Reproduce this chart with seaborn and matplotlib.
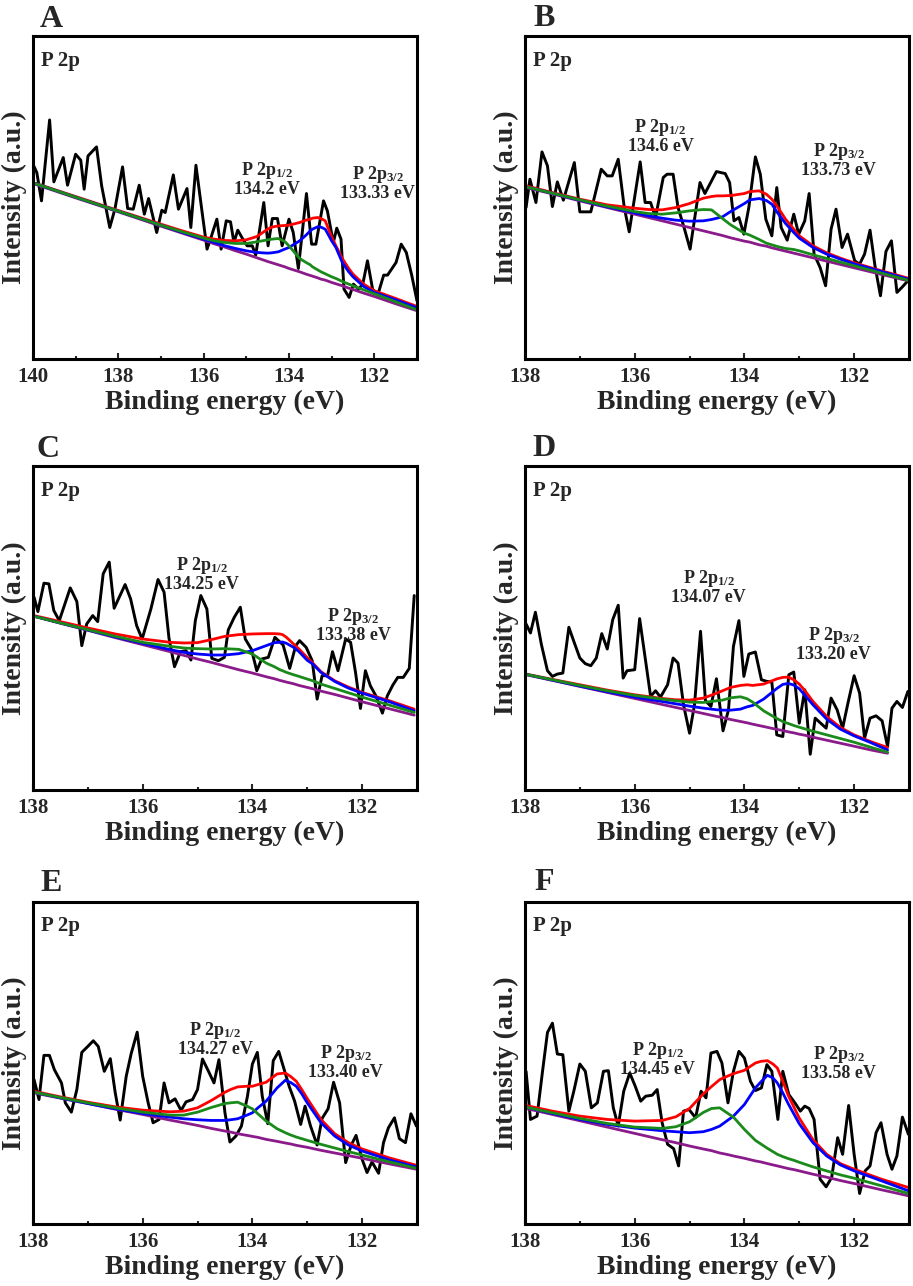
import matplotlib
matplotlib.use('Agg')
import seaborn as sns
from matplotlib import pyplot as plt
from matplotlib.ticker import MultipleLocator

# ---------------- panel A ----------------
a_raw_e = [140.00, 139.91, 139.80, 139.61, 139.51, 139.29, 139.19, 139.00, 138.88, 138.80, 138.71, 138.51,
           138.39, 138.20, 138.08, 137.90, 137.78, 137.65, 137.51, 137.39, 137.29, 137.10, 136.98, 136.90,
           136.71, 136.59, 136.39, 136.30, 136.18, 136.04, 135.92, 135.84, 135.69, 135.59, 135.47, 135.37,
           135.29, 135.20, 135.08, 134.98, 134.86, 134.78, 134.59, 134.49, 134.39, 134.27, 134.16, 134.00,
           133.90, 133.78, 133.59, 133.47, 133.37, 133.19, 133.10, 132.96, 132.88, 132.78, 132.71, 132.59,
           132.49, 132.37, 132.27, 132.16, 132.04, 131.92, 131.78, 131.69, 131.49, 131.37, 131.25, 131.12,
           131.00]
a_raw_i = [585, 560, 475, 718, 532, 605, 522, 615, 597, 510, 610, 637, 520, 395, 450, 577, 452, 450, 522, 435,
           482, 380, 447, 440, 553, 450, 512, 395, 582, 445, 330, 360, 420, 330, 415, 412, 350, 387, 360, 340,
           340, 312, 470, 340, 422, 422, 340, 420, 380, 272, 497, 345, 345, 475, 445, 350, 393, 360, 210, 185,
           225, 210, 225, 295, 210, 192, 252, 252, 290, 345, 320, 250, 175]
a_fit_e = [139.95, 139, 138, 137, 136.5, 136, 135.75, 135.5, 135.25, 135, 134.75, 134.5, 134.4, 134.25, 134.1,
           134, 133.75, 133.6, 133.5, 133.45, 133.33, 133.25, 133.15, 133, 132.9, 132.75, 132.6, 132.5, 132.25,
           132, 131.5, 131.0]
a_bg = [525, 484, 442, 399, 378, 357, 346, 336, 325, 315, 304, 293, 289, 283, 277, 272, 262, 255, 251, 249, 244,
        240, 237, 230, 226, 220, 213, 209, 198, 188, 166, 145]
a_p12 = [527, 486, 444, 402, 382, 363, 355, 350, 347, 347, 352, 358, 360, 362, 353, 340, 302, 290, 283, 277, 268,
         262, 256, 247, 242, 233, 225, 220, 208, 196, 172, 148]
a_p32 = [527, 486, 444, 402, 380, 360, 350, 340, 332, 325, 320, 318, 319, 322, 330, 335, 355, 372, 385, 390, 397,
         396, 390, 355, 335, 290, 262, 247, 218, 200, 178, 154]
a_env = [528, 488, 446, 405, 385, 366, 360, 356, 355, 358, 368, 390, 396, 400, 401, 402, 410, 417, 420, 423, 425,
         422, 415, 367, 340, 302, 272, 255, 225, 205, 182, 158]

# ---------------- panel B ----------------
b_raw_e = [137.98, 137.91, 137.80, 137.69, 137.59, 137.50, 137.41, 137.30, 137.10, 137.00, 136.80, 136.61,
           136.50, 136.41, 136.30, 136.19, 136.10, 135.90, 135.81, 135.71, 135.62, 135.48, 135.41, 135.30,
           135.21, 135.10, 134.99, 134.81, 134.72, 134.51, 134.35, 134.27, 134.19, 134.10, 134.01, 133.92,
           133.80, 133.71, 133.61, 133.50, 133.41, 133.33, 133.22, 133.10, 133.01, 132.90, 132.82, 132.73,
           132.62, 132.52, 132.42, 132.33, 132.22, 132.12, 131.99, 131.90, 131.81, 131.71, 131.62, 131.52,
           131.42, 131.32, 131.22, 131.13, 131.02]
b_raw_i = [455, 540, 470, 622, 580, 458, 532, 477, 590, 442, 442, 570, 550, 550, 600, 455, 382, 592, 470, 470,
           425, 545, 555, 555, 455, 395, 330, 530, 497, 563, 557, 530, 415, 425, 375, 455, 607, 555, 420, 370,
           515, 395, 357, 435, 375, 415, 497, 315, 275, 220, 390, 450, 335, 375, 295, 285, 315, 387, 280, 190,
           323, 355, 200, 215, 235]
b_fit_e = [137.98, 137.5, 137, 136.5, 136, 135.75, 135.5, 135.25, 135, 134.75, 134.6, 134.5, 134.4, 134.25, 134,
           133.9, 133.73, 133.6, 133.5, 133.4, 133.25, 133.1, 133, 132.75, 132.5, 132.25, 132, 131.5, 131.02]
b_bg = [515, 496, 475, 455, 435, 425, 415, 405, 395, 385, 379, 375, 371, 364, 354, 351, 343, 339, 334, 330, 324,
        318, 314, 304, 294, 284, 274, 254, 235]
b_p12 = [517, 498, 478, 459, 443, 437, 435, 439, 445, 449, 448, 435, 422, 403, 378, 372, 359, 348, 343, 338, 332,
         329, 325, 313, 302, 291, 280, 258, 237]
b_p32 = [517, 498, 477, 457, 439, 430, 423, 417, 414, 415, 419, 423, 427, 443, 467, 478, 482, 476, 465, 440, 407,
         380, 363, 335, 315, 300, 286, 263, 240]
b_env = [520, 500, 480, 463, 453, 449, 448, 455, 467, 483, 488, 490, 490, 491, 497, 503, 505, 495, 480, 458, 420,
         390, 370, 340, 319, 303, 289, 265, 243]

# ---------------- panel C ----------------
c_raw_e = [137.98, 137.91, 137.80, 137.71, 137.62, 137.52, 137.32, 137.20, 137.11, 137.02, 136.91, 136.82,
           136.72, 136.61, 136.52, 136.32, 136.22, 136.11, 136.01, 135.85, 135.72, 135.61, 135.52, 135.42,
           135.31, 135.21, 135.12, 135.04, 134.94, 134.83, 134.74, 134.62, 134.51, 134.44, 134.33, 134.22,
           134.13, 134.02, 133.92, 133.83, 133.71, 133.59, 133.44, 133.32, 133.21, 133.14, 133.02, 132.91,
           132.82, 132.73, 132.63, 132.54, 132.44, 132.30, 132.21, 132.12, 132.03, 131.94, 131.85, 131.75,
           131.63, 131.54, 131.44, 131.35, 131.25, 131.14, 131.05]
c_raw_i = [577, 534, 619, 617, 537, 507, 605, 564, 432, 497, 522, 504, 647, 682, 544, 615, 572, 492, 452, 542,
           630, 592, 454, 369, 414, 417, 389, 507, 582, 542, 394, 387, 397, 479, 517, 547, 452, 422, 357, 392,
           397, 457, 434, 364, 432, 447, 427, 387, 272, 342, 342, 414, 357, 452, 442, 352, 244, 357, 312, 282,
           230, 282, 314, 337, 337, 364, 582]
c_fit_e = [137.98, 137.5, 137, 136.5, 136, 135.5, 135.25, 135, 134.75, 134.5, 134.25, 134, 133.75, 133.6, 133.5,
           133.45, 133.38, 133.25, 133.15, 133, 132.9, 132.75, 132.5, 132.25, 132, 131.5, 131.05]
c_bg = [520, 499, 478, 456, 435, 414, 403, 392, 382, 371, 360, 350, 339, 333, 328, 326, 323, 318, 313, 307, 303,
        296, 286, 275, 264, 243, 224]
c_p12 = [520, 500, 480, 460, 442, 430, 425, 423, 422, 423, 421, 407, 380, 369, 360, 357, 352, 345, 340, 332, 327,
         317, 304, 291, 278, 254, 232]
c_p32 = [520, 500, 479, 458, 439, 420, 412, 407, 404, 404, 408, 417, 432, 441, 442, 443, 439, 427, 414, 388, 377,
         352, 325, 305, 290, 264, 237]
c_env = [522, 504, 485, 467, 452, 442, 440, 441, 450, 460, 465, 467, 468, 468, 467, 465, 457, 437, 422, 396, 380,
         354, 327, 308, 292, 267, 242]

# ---------------- panel D ----------------
d_raw_e = [137.98, 137.90, 137.81, 137.70, 137.59, 137.50, 137.41, 137.31, 137.20, 137.11, 137.00, 136.90,
           136.80, 136.70, 136.60, 136.50, 136.40, 136.30, 136.21, 136.14, 136.00, 135.91, 135.80, 135.71,
           135.62, 135.53, 135.40, 135.30, 135.21, 135.11, 135.00, 134.91, 134.80, 134.71, 134.61, 134.51,
           134.39, 134.29, 134.20, 134.10, 134.01, 133.92, 133.80, 133.69, 133.59, 133.50, 133.41, 133.30,
           133.19, 133.10, 133.00, 132.90, 132.80, 132.71, 132.61, 132.51, 132.42, 132.31, 132.21, 132.11,
           132.00, 131.90, 131.81, 131.71, 131.60, 131.49, 131.39, 131.31, 131.22, 131.12, 131.02]
d_raw_i = [497, 470, 532, 435, 357, 340, 347, 350, 487, 445, 395, 378, 372, 395, 468, 422, 510, 553, 335, 357,
           360, 513, 385, 280, 297, 278, 315, 395, 380, 255, 170, 255, 475, 267, 250, 333, 177, 240, 430, 507,
           340, 407, 413, 330, 325, 323, 165, 160, 345, 353, 200, 300, 107, 215, 200, 185, 275, 240, 185, 262,
           342, 290, 155, 215, 222, 207, 130, 245, 265, 247, 295]
d_fit_e = [137.98, 137.5, 137, 136.5, 136, 135.5, 135.25, 135, 134.75, 134.5, 134.4, 134.25, 134.07, 133.95,
           133.85, 133.65, 133.4, 133.3, 133.2, 133.1, 133, 132.9, 132.75, 132.5, 132.25, 132, 131.7, 131.39]
d_bg = [345, 328, 310, 292, 274, 256, 247, 238, 229, 220, 217, 211, 205, 201, 197, 190, 181, 178, 174, 171, 167,
        164, 158, 149, 140, 131, 120, 110]
d_p12 = [346, 330, 313, 297, 283, 272, 267, 263, 262, 267, 269, 276, 279, 273, 263, 237, 213, 205, 199, 193, 188,
         183, 176, 165, 154, 143, 128, 113]
d_p32 = [346, 329, 311, 294, 278, 265, 258, 251, 245, 240, 239, 239, 242, 249, 253, 272, 305, 316, 319, 314, 303,
         284, 255, 212, 182, 162, 142, 120]
d_env = [347, 331, 315, 299, 285, 274, 270, 269, 275, 290, 297, 307, 313, 315, 313, 317, 333, 337, 338, 330, 317,
         298, 265, 220, 187, 165, 145, 127]

# ---------------- panel E ----------------
e_raw_e = [137.98, 137.89, 137.80, 137.70, 137.61, 137.48, 137.41, 137.30, 137.20, 137.11, 137.00, 136.90,
           136.81, 136.70, 136.59, 136.50, 136.41, 136.30, 136.21, 136.10, 136.00, 135.90, 135.81, 135.70,
           135.61, 135.52, 135.41, 135.30, 135.21, 135.09, 135.00, 134.91, 134.80, 134.70, 134.61, 134.50,
           134.41, 134.30, 134.20, 134.09, 134.00, 133.91, 133.82, 133.72, 133.62, 133.52, 133.42, 133.33,
           133.23, 133.12, 133.04, 132.94, 132.82, 132.73, 132.62, 132.52, 132.41, 132.30, 132.20, 132.11,
           132.00, 131.91, 131.82, 131.70, 131.61, 131.52, 131.41, 131.32, 131.21, 131.11, 131.01]
e_raw_i = [435, 375, 508, 508, 465, 425, 365, 337, 405, 517, 535, 552, 535, 460, 498, 395, 313, 445, 513, 578,
           445, 365, 305, 315, 425, 365, 377, 342, 368, 375, 405, 497, 460, 425, 495, 335, 247, 265, 295, 385,
           482, 517, 385, 302, 492, 520, 465, 415, 370, 300, 355, 295, 238, 318, 347, 427, 365, 185, 237, 267,
           195, 155, 187, 153, 245, 290, 320, 257, 245, 332, 295]
e_fit_e = [137.98, 137.5, 137, 136.5, 136, 135.5, 135.25, 135, 134.75, 134.5, 134.4, 134.27, 134.1, 134, 133.9,
           133.75, 133.55, 133.4, 133.3, 133.2, 133.1, 133, 132.75, 132.5, 132.25, 132, 131.5, 131.01]
e_bg = [395, 379, 363, 346, 330, 313, 305, 297, 288, 280, 277, 272, 267, 264, 261, 255, 249, 244, 241, 237, 234,
        231, 222, 214, 206, 198, 181, 165]
e_p12 = [397, 381, 365, 350, 337, 328, 328, 337, 351, 363, 365, 367, 355, 347, 332, 310, 287, 275, 268, 262, 257,
         252, 240, 229, 218, 208, 187, 168]
e_p32 = [397, 380, 363, 347, 333, 322, 317, 314, 312, 312, 314, 317, 328, 335, 350, 370, 410, 433, 426, 415, 392,
         365, 305, 265, 238, 220, 193, 172]
e_env = [400, 383, 367, 353, 343, 338, 340, 350, 372, 397, 405, 413, 415, 415, 420, 427, 452, 455, 444, 430, 405,
         378, 315, 272, 245, 226, 199, 177]

# ---------------- panel F ----------------
f_raw_e = [137.98, 137.90, 137.78, 137.68, 137.59, 137.50, 137.41, 137.31, 137.20, 137.11, 137.00, 136.90,
           136.79, 136.68, 136.57, 136.48, 136.39, 136.30, 136.20, 136.09, 135.99, 135.89, 135.80, 135.68,
           135.59, 135.50, 135.40, 135.29, 135.20, 135.11, 135.01, 134.89, 134.79, 134.70, 134.61, 134.50,
           134.41, 134.30, 134.20, 134.10, 134.00, 133.89, 133.80, 133.69, 133.59, 133.50, 133.39, 133.30,
           133.19, 133.08, 132.98, 132.90, 132.82, 132.73, 132.62, 132.51, 132.41, 132.30, 132.21, 132.10,
           132.00, 131.90, 131.80, 131.71, 131.60, 131.51, 131.40, 131.31, 131.22, 131.12, 131.01]
f_raw_i = [460, 315, 325, 460, 577, 605, 512, 510, 340, 400, 482, 460, 350, 365, 460, 462, 350, 295, 400, 455,
           415, 370, 385, 388, 405, 305, 240, 227, 175, 340, 345, 320, 400, 380, 515, 520, 485, 365, 460, 520,
           500, 430, 402, 410, 480, 460, 315, 460, 390, 365, 340, 355, 348, 315, 135, 112, 140, 260, 210, 357,
           210, 92, 160, 175, 275, 305, 210, 165, 205, 322, 270]
f_fit_e = [137.98, 137.5, 137, 136.5, 136, 135.5, 135.25, 135, 134.75, 134.6, 134.45, 134.3, 134.2, 134, 133.8,
           133.7, 133.58, 133.48, 133.4, 133.3, 133.2, 133.1, 133, 132.75, 132.5, 132.25, 132, 131.5, 131.01]
f_bg = [348, 330, 311, 292, 273, 254, 245, 235, 226, 221, 214, 209, 205, 198, 190, 187, 182, 178, 175, 171, 167,
        164, 160, 150, 141, 131, 122, 103, 85]
f_p12 = [352, 335, 318, 303, 292, 288, 293, 308, 336, 348, 350, 333, 322, 285, 252, 241, 228, 218, 210, 203, 197,
         192, 186, 172, 160, 148, 138, 115, 92]
f_p32 = [352, 333, 315, 300, 289, 281, 278, 275, 278, 285, 295, 313, 325, 360, 410, 428, 448, 440, 425, 395, 362,
         332, 302, 245, 205, 178, 160, 130, 100]
f_env = [357, 340, 325, 315, 310, 312, 323, 348, 392, 414, 435, 446, 453, 463, 485, 490, 492, 482, 470, 430, 387,
         353, 319, 254, 210, 182, 165, 135, 110]

panel_letters = ['A', 'B', 'C', 'D', 'E', 'F']
x_start = [140, 138, 138, 138, 138, 138]
p12_energy = ['134.2 eV', '134.6 eV', '134.25 eV', '134.07 eV', '134.27 eV', '134.45 eV']
p32_energy = ['133.33 eV', '133.73 eV', '133.38 eV', '133.20 eV', '133.40 eV', '133.58 eV']

panels = [
    (a_raw_e, a_raw_i, a_fit_e, a_bg, a_p12, a_p32, a_env),
    (b_raw_e, b_raw_i, b_fit_e, b_bg, b_p12, b_p32, b_env),
    (c_raw_e, c_raw_i, c_fit_e, c_bg, c_p12, c_p32, c_env),
    (d_raw_e, d_raw_i, d_fit_e, d_bg, d_p12, d_p32, d_env),
    (e_raw_e, e_raw_i, e_fit_e, e_bg, e_p12, e_p32, e_env),
    (f_raw_e, f_raw_i, f_fit_e, f_bg, f_p12, f_p32, f_env),
]

# layout (figure fractions / data positions of the labels)
col_left = [0.0361, 0.575]
row_bottom = [0.7208, 0.3857, 0.0482]
row_height = [0.2512, 0.2520, 0.2504]
ax_width = 0.4206
letter_xy = [(0.0438, 0.979), (0.5838, 0.980), (0.0405, 0.6446),
             (0.5827, 0.6454), (0.0438, 0.3072), (0.5849, 0.3079)]
p12_xy = [(134.51, 542), (135.53, 669), (134.92, 645), (134.65, 608), (134.68, 557), (135.58, 497)]
p32_xy = [(131.92, 530), (132.28, 597), (132.16, 494), (132.37, 437), (132.30, 487), (132.28, 486)]

sns.set_style('ticks')
plt.rcParams['font.family'] = ['Liberation Serif', 'DejaVu Serif']
plt.rcParams['font.weight'] = 'bold'
plt.rcParams['mathtext.fontset'] = 'custom'
plt.rcParams['mathtext.rm'] = 'Liberation Serif:bold'
plt.rcParams['mathtext.it'] = 'Liberation Serif:bold'
plt.rcParams['mathtext.bf'] = 'Liberation Serif:bold'

fig = plt.figure(figsize=(9.13, 12.86), dpi=100)

for k, (raw_e, raw_i, fit_e, bg, p12, p32, env) in enumerate(panels):
    row, col = k // 2, k % 2
    ax = fig.add_axes([col_left[col], row_bottom[row], ax_width, row_height[row]])
    sns.lineplot(x=raw_e, y=raw_i, ax=ax, color='black', linewidth=2.1, sort=False, estimator=None)
    sns.lineplot(x=fit_e, y=bg, ax=ax, color='#8B1A8B', linewidth=2.0, sort=False, estimator=None)
    sns.lineplot(x=fit_e, y=env, ax=ax, color='#FF0000', linewidth=2.0, sort=False, estimator=None)
    sns.lineplot(x=fit_e, y=p32, ax=ax, color='#0000FF', linewidth=2.0, sort=False, estimator=None)
    sns.lineplot(x=fit_e, y=p12, ax=ax, color='#1A8A1A', linewidth=2.0, sort=False, estimator=None)

    ax.set_xlim(x_start[k], 131)
    ax.set_ylim(0, 970)
    ax.xaxis.set_major_locator(MultipleLocator(2))
    ax.xaxis.set_minor_locator(MultipleLocator(1))
    ax.set_yticks([])
    ax.tick_params(axis='x', which='major', direction='in', length=4, width=1.5, labelsize=15, pad=6)
    ax.tick_params(axis='x', which='minor', direction='in', length=2, width=1.5)
    for sp in ax.spines.values():
        sp.set_linewidth(2.2)
        sp.set_color('black')
    ax.set_xlabel('Binding energy (eV)', fontsize=20, fontweight='bold', labelpad=2)
    ax.set_ylabel('Intensity (a.u.)', fontsize=20, fontweight='bold', labelpad=4)

    ax.text(0.022, 0.955, 'P 2p', transform=ax.transAxes, fontsize=15, fontweight='bold',
            ha='left', va='top')
    ax.text(p12_xy[k][0], p12_xy[k][1], 'P 2p$_{1/2}$\n' + p12_energy[k], fontsize=13, fontweight='bold',
            ha='center', va='center', multialignment='center', linespacing=1.0)
    ax.text(p32_xy[k][0], p32_xy[k][1], 'P 2p$_{3/2}$\n' + p32_energy[k], fontsize=13, fontweight='bold',
            ha='center', va='center', multialignment='center', linespacing=1.0)

    fig.text(letter_xy[k][0], letter_xy[k][1], panel_letters[k], fontsize=23, fontweight='bold',
             ha='left', va='baseline')

plt.savefig('out.png', dpi=100)
